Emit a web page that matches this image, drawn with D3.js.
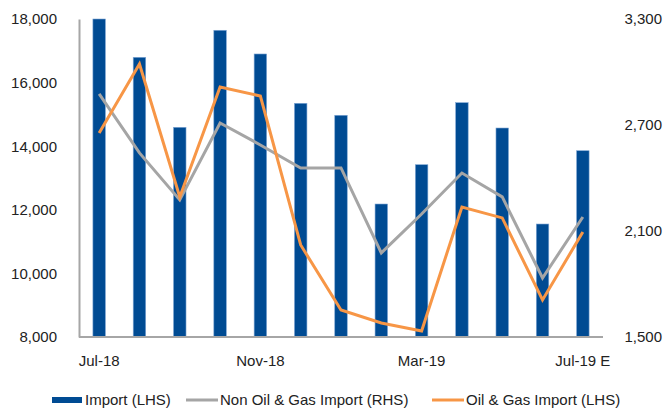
<!DOCTYPE html>
<html>
<head>
<meta charset="utf-8">
<script src="https://cdn.jsdelivr.net/npm/d3@7"></script>
<style>
  body { margin: 0; background: #fff; }
  text { font-family: "Liberation Sans", Arial, sans-serif; fill: #222; }
</style>
</head>
<body>
<div class="chart"></div>
<script>
// months shown on the x axis (only every 4th is labelled)
var months = ["Jul-18","Aug-18","Sep-18","Oct-18","Nov-18","Dec-18","Jan-19",
              "Feb-19","Mar-19","Apr-19","May-19","Jun-19","Jul-19 E"];
var tickMonths = ["Jul-18","Nov-18","Mar-19","Jul-19 E"];

// Import (LHS)
var importVals = [18000,16795,14594,17645,16900,15349,14972,12182,13418,15368,14572,11553,13858];
// Non Oil & Gas Import (RHS)
var nonOilGas = [2876,2542,2276,2711,2587,2457,2457,1976,2196,2428,2293,1834,2179];
// Oil & Gas Import (drawn against the right scale)
var oilGas = [2655,3045,2293,2915,2864,2021,1653,1579,1534,2236,2174,1710,2094];

var leftTicks = [8000,10000,12000,14000,16000,18000];
var rightTicks = [1500,2100,2700,3300];

var width = 665, height = 412;
var margin = {top: 19, right: 62, bottom: 75, left: 79};

var svg = d3.select(".chart")
  .append("svg")
    .attr("width", width)
    .attr("height", height);

var x = d3.scaleBand()
  .domain(months)
  .range([margin.left, width - margin.right])
  .paddingInner(0.69)
  .paddingOuter(0.345);

var yL = d3.scaleLinear()
  .domain([8000, 18000])
  .range([height - margin.bottom, margin.top]);

var yR = d3.scaleLinear()
  .domain([1500, 3300])
  .range([height - margin.bottom, margin.top]);

var fmt = d3.format(",");

// bars
svg.append("g")
  .selectAll("rect")
  .data(importVals)
  .enter().append("rect")
    .attr("x", function(d, i){ return x(months[i]); })
    .attr("y", function(d){ return yL(d); })
    .attr("width", x.bandwidth())
    .attr("height", function(d){ return yL(8000) - yL(d); })
    .attr("fill", "#004b93")
    .attr("stroke", "#7fa6d4")
    .attr("stroke-width", 0.6);

// axes
var leftAxis = svg.append("g")
  .attr("transform", "translate(" + margin.left + ",0)")
  .call(d3.axisLeft(yL).tickValues(leftTicks).tickFormat(fmt).tickSize(0).tickPadding(22));
leftAxis.select(".domain").attr("stroke", "#a6a6a6").attr("stroke-width", 2);
leftAxis.selectAll("text").attr("font-size", 15).attr("font-family", "Liberation Sans, Arial, sans-serif").attr("fill", "#222");

var rightAxis = svg.append("g")
  .attr("transform", "translate(" + (width - 3) + ",0)")
  .call(d3.axisLeft(yR).tickValues(rightTicks).tickFormat(fmt).tickSize(0).tickPadding(0));
rightAxis.select(".domain").remove();
rightAxis.selectAll("text").attr("font-size", 15).attr("font-family", "Liberation Sans, Arial, sans-serif").attr("fill", "#222");

var bottomAxis = svg.append("g")
  .attr("transform", "translate(0," + (height - margin.bottom) + ")")
  .call(d3.axisBottom(x).tickValues(tickMonths).tickSize(0).tickPadding(18));
bottomAxis.select(".domain").attr("stroke", "#a6a6a6").attr("stroke-width", 2)
  .attr("d", "M" + margin.left + ",0H" + (width - margin.right));
bottomAxis.selectAll("text").attr("font-size", 15).attr("font-family", "Liberation Sans, Arial, sans-serif").attr("fill", "#222");

// lines
var cx = function(i){ return x(months[i]) + x.bandwidth() / 2; };

var lineR = d3.line()
  .x(function(d, i){ return cx(i); })
  .y(function(d){ return yR(d); });

svg.append("path")
  .datum(nonOilGas)
  .attr("d", lineR)
  .attr("fill", "none")
  .attr("stroke", "#a5a5a5")
  .attr("stroke-width", 3)
  .attr("stroke-linejoin", "miter");

svg.append("path")
  .datum(oilGas)
  .attr("d", lineR)
  .attr("fill", "none")
  .attr("stroke", "#f79646")
  .attr("stroke-width", 3)
  .attr("stroke-linejoin", "miter");

// legend
var legend = svg.append("g").attr("transform", "translate(0,400)");
legend.append("rect")
  .attr("x", 52).attr("y", -3).attr("width", 30).attr("height", 6)
  .attr("fill", "#004b93");
legend.append("text").attr("x", 85).attr("y", 0).attr("dy", ".35em")
  .attr("font-size", 15).text("Import (LHS)");

legend.append("line")
  .attr("x1", 186).attr("x2", 218).attr("y1", 0).attr("y2", 0)
  .attr("stroke", "#a5a5a5").attr("stroke-width", 3);
legend.append("text").attr("x", 220).attr("y", 0).attr("dy", ".35em")
  .attr("font-size", 15).text("Non Oil & Gas Import (RHS)");

legend.append("line")
  .attr("x1", 432).attr("x2", 464).attr("y1", 0).attr("y2", 0)
  .attr("stroke", "#f79646").attr("stroke-width", 3);
legend.append("text").attr("x", 466).attr("y", 0).attr("dy", ".35em")
  .attr("font-size", 15).text("Oil & Gas Import (LHS)");
</script>
</body>
</html>
